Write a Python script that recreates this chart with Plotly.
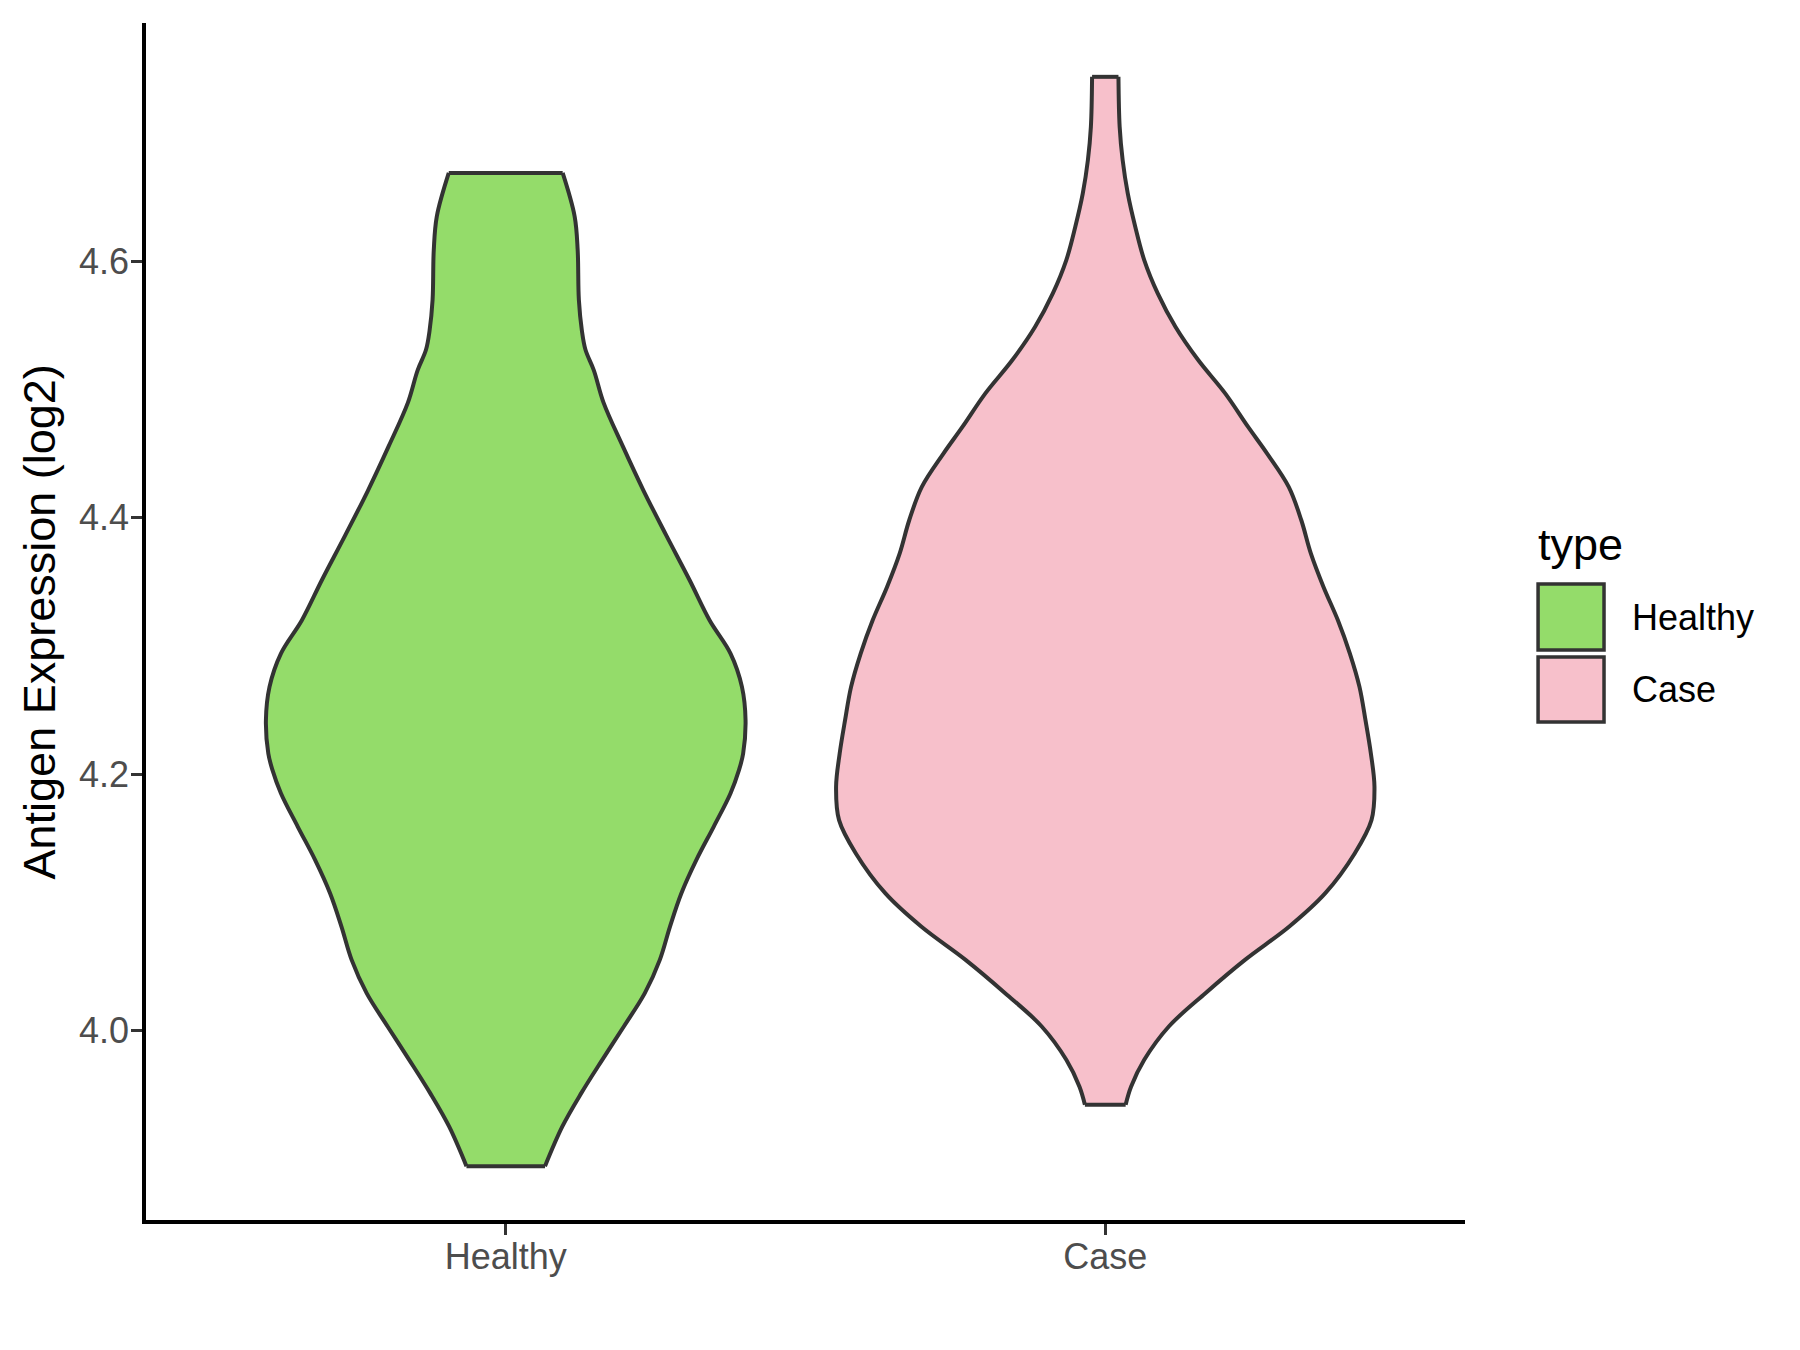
import plotly.graph_objects as go

# ---- data ----
categories = ["Healthy", "Case"]
fill_colors = ["#94DC6A", "#F7C0CB"]

# Violin outline: expression level (log2) and half-width of the density (x-axis units)
healthy_y = [4.669, 4.635, 4.609, 4.570, 4.546, 4.531, 4.515, 4.490, 4.456, 4.421,
             4.386, 4.351, 4.320, 4.294, 4.268, 4.242, 4.216, 4.203, 4.185, 4.159,
             4.133, 4.107, 4.081, 4.055, 4.029, 4.003, 3.977, 3.951, 3.925, 3.894]
healthy_halfwidth = [0.095, 0.115, 0.120, 0.122, 0.127, 0.133, 0.147, 0.163, 0.195, 0.230,
                     0.268, 0.307, 0.340, 0.375, 0.394, 0.400, 0.396, 0.389, 0.375, 0.347,
                     0.318, 0.293, 0.274, 0.257, 0.232, 0.197, 0.161, 0.126, 0.0945, 0.0655]

case_y = [4.744, 4.705, 4.679, 4.653, 4.627, 4.601, 4.575, 4.549, 4.523, 4.497,
          4.471, 4.450, 4.424, 4.398, 4.372, 4.346, 4.320, 4.294, 4.268, 4.242,
          4.216, 4.190, 4.164, 4.138, 4.107, 4.081, 4.055, 4.029, 4.003, 3.977,
          3.956, 3.942]
case_halfwidth = [0.022, 0.024, 0.029, 0.0375, 0.050, 0.065, 0.0875, 0.117, 0.155, 0.200,
                  0.238, 0.270, 0.306, 0.327, 0.343, 0.364, 0.388, 0.408, 0.424, 0.434,
                  0.443, 0.449, 0.444, 0.416, 0.367, 0.307, 0.233, 0.167, 0.106, 0.065,
                  0.043, 0.034]

y_tick_values = [4.0, 4.2, 4.4, 4.6]
y_tick_labels = ["4.0", "4.2", "4.4", "4.6"]
y_title = "Antigen Expression (log2)"
legend_title = "type"

profiles = [(healthy_y, healthy_halfwidth), (case_y, case_halfwidth)]

FONT = "Liberation Sans, Arial, sans-serif"
OUTLINE = "#333333"
LW = 4
SIDE = dict(color=OUTLINE, width=LW, shape="spline", smoothing=1.0)

fig = go.Figure()
for i, (cat, (ys, hws)) in enumerate(zip(categories, profiles)):
    pos = i + 1
    left_x = [pos - h for h in hws]
    right_x = [pos + h for h in hws]
    ys = list(ys)
    # left side of the violin (smooth outline)
    fig.add_trace(go.Scatter(
        x=left_x, y=ys, mode="lines", line=SIDE,
        showlegend=False, hoverinfo="skip",
    ))
    # right side, filled back to the left side
    fig.add_trace(go.Scatter(
        x=right_x, y=ys, mode="lines", line=SIDE,
        fill="tonextx", fillcolor=fill_colors[i],
        name=cat, showlegend=False, hoverinfo="skip",
    ))
    # flat top and bottom caps
    fig.add_trace(go.Scatter(
        x=[left_x[0], right_x[0], None, left_x[-1], right_x[-1]],
        y=[ys[0], ys[0], None, ys[-1], ys[-1]],
        mode="lines", line=dict(color=OUTLINE, width=LW),
        showlegend=False, hoverinfo="skip",
    ))

fig.update_layout(
    width=1800, height=1350,
    margin=dict(l=146, r=335, t=23, b=130),
    paper_bgcolor="white", plot_bgcolor="white",
    font=dict(family=FONT, color="#4D4D4D"),
    xaxis=dict(
        range=[0.4, 2.6], tickmode="array",
        tickvals=[i + 1 for i in range(len(categories))], ticktext=categories,
        showgrid=False, zeroline=False, showline=True, linecolor="black", linewidth=3.5,
        ticks="outside", ticklen=11, tickwidth=3, tickcolor=OUTLINE,
        tickfont=dict(size=36, color="#4D4D4D", family=FONT),
        ticklabelstandoff=-9,
    ),
    yaxis=dict(
        range=[3.852, 4.786], tickmode="array",
        tickvals=y_tick_values, ticktext=y_tick_labels,
        showgrid=False, zeroline=False, showline=True, linecolor="black", linewidth=3.5,
        ticks="outside", ticklen=11, tickwidth=3, tickcolor=OUTLINE,
        tickfont=dict(size=36, color="#4D4D4D", family=FONT),
        ticklabelstandoff=-5,
    ),
    showlegend=False,
)

# y-axis title
fig.add_annotation(
    text=y_title, xref="paper", yref="paper", x=-0.0804, y=0.5,
    xanchor="center", yanchor="middle", textangle=-90, showarrow=False,
    font=dict(size=45, color="black", family=FONT),
)

# legend (drawn manually to match the large ggplot key boxes)
fig.add_annotation(
    text=legend_title, xref="paper", yref="paper", x=1.0538, y=0.5647,
    xanchor="left", yanchor="middle", showarrow=False,
    font=dict(size=45, color="black", family=FONT),
)
key_boxes = [(0.4762, 0.5313), (0.4160, 0.4703)]
for i, cat in enumerate(categories):
    y0, y1 = key_boxes[i]
    fig.add_shape(
        type="rect", xref="paper", yref="paper", x0=1.0554, x1=1.1054, y0=y0, y1=y1,
        fillcolor=fill_colors[i], line=dict(color=OUTLINE, width=3.5),
    )
    fig.add_annotation(
        text=cat, xref="paper", yref="paper", x=1.1251, y=(y0 + y1) / 2,
        xanchor="left", yanchor="middle", showarrow=False,
        font=dict(size=36, color="black", family=FONT),
    )

fig.write_html("out.html", config={"displayModeBar": False},
               post_script="document.body.style.margin='0px';")
